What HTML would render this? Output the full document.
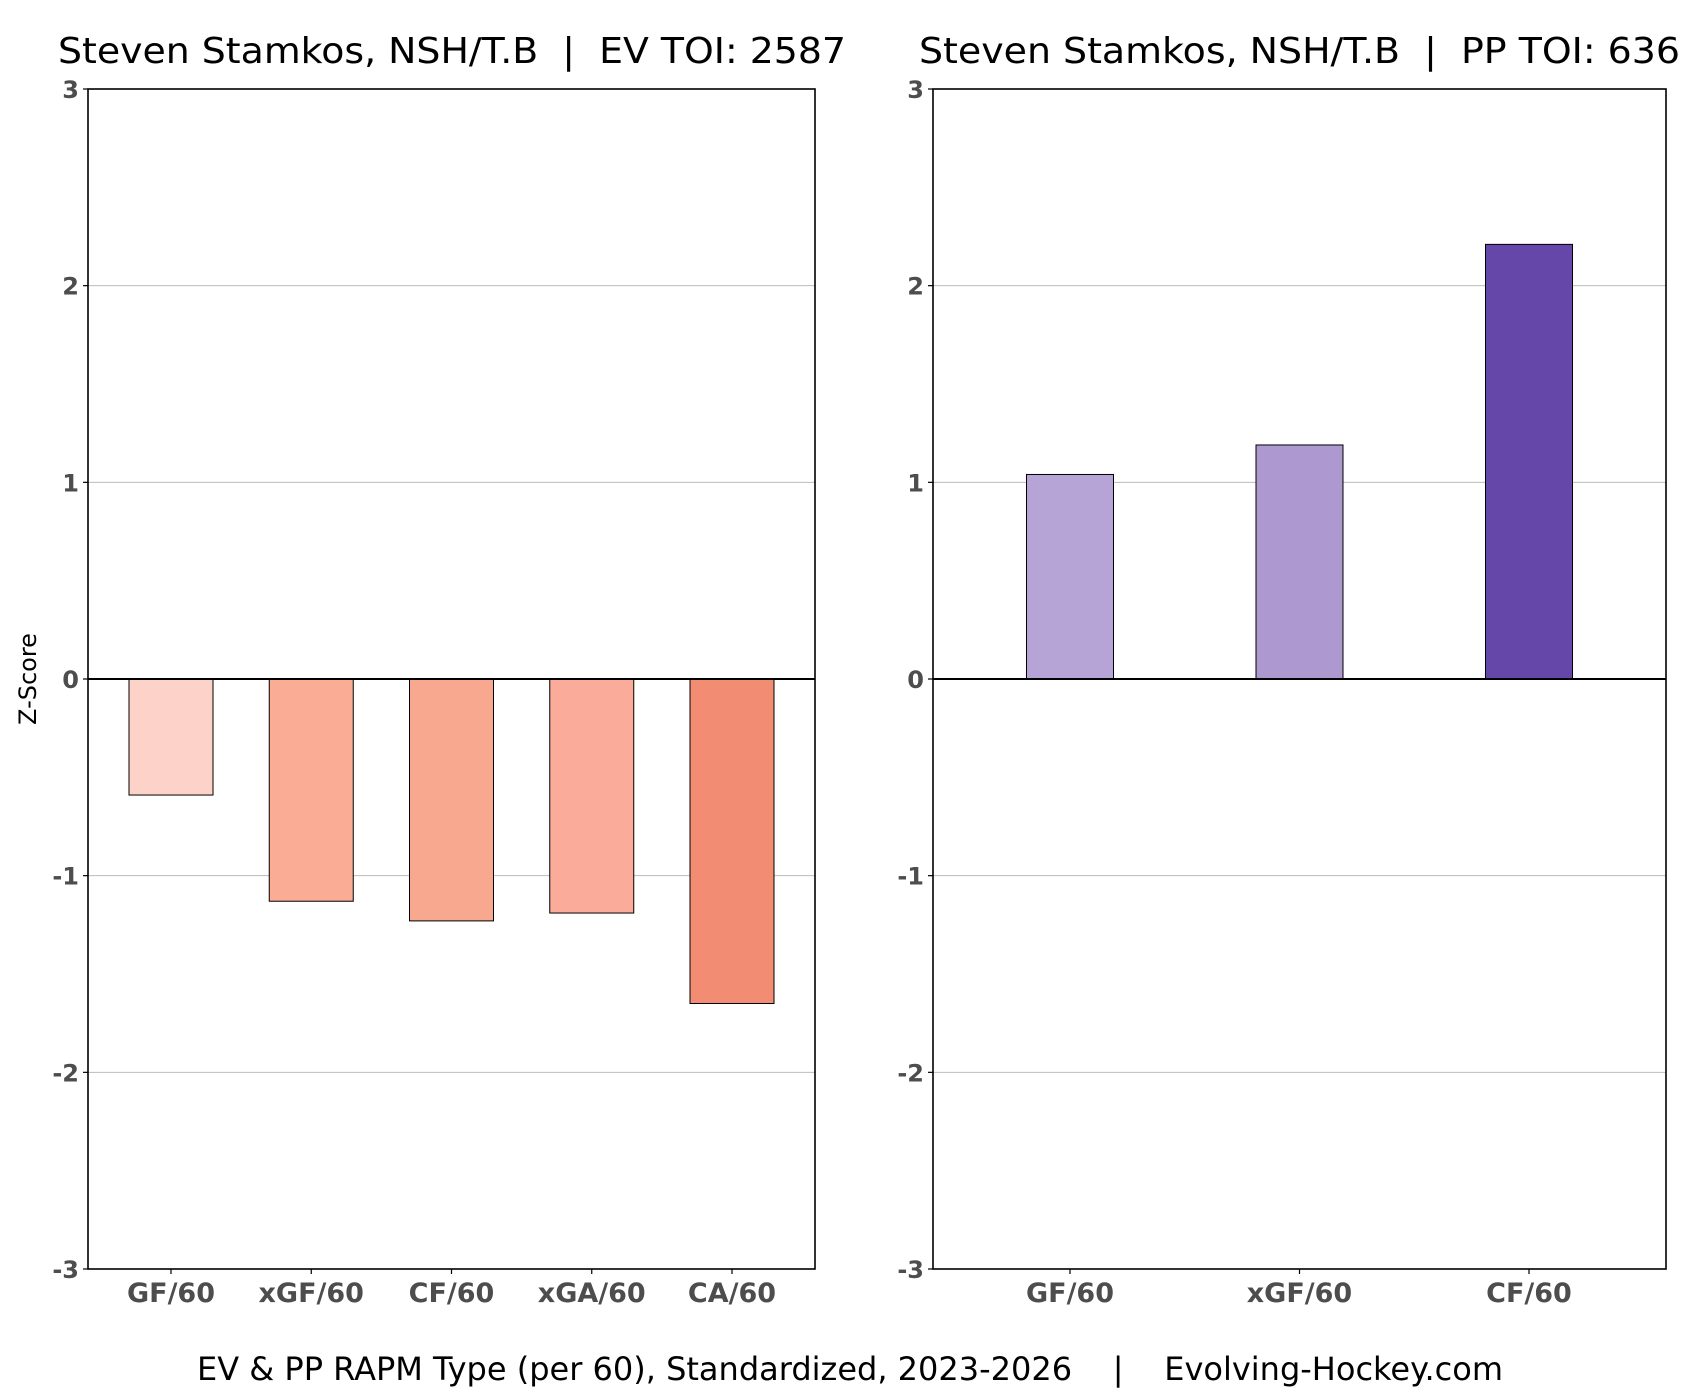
<!DOCTYPE html>
<html><head><meta charset="utf-8"><style>
html,body{margin:0;padding:0;background:#fff}
svg{display:block;font-family:"DejaVu Sans","Liberation Sans",sans-serif}
</style></head><body>
<svg id="c" width="1700" height="1400" viewBox="0 0 1700 1400">
<text x="58" y="63" font-size="36" xml:space="preserve" textLength="788" lengthAdjust="spacingAndGlyphs" fill="#000">Steven Stamkos, NSH/T.B  |  EV TOI: 2587</text>
<text x="919" y="63" font-size="36" xml:space="preserve" textLength="761" lengthAdjust="spacingAndGlyphs" fill="#000">Steven Stamkos, NSH/T.B  |  PP TOI: 636</text>
<text x="36" y="679" font-size="24" text-anchor="middle" transform="rotate(-90 36 679)" fill="#000">Z-Score</text>
<text x="197" y="1380" font-size="32" xml:space="preserve" textLength="1306" lengthAdjust="spacingAndGlyphs" fill="#000">EV &amp; PP RAPM Type (per 60), Standardized, 2023-2026    |    Evolving-Hockey.com</text>
</svg>
<script>
const evCats=["GF/60","xGF/60","CF/60","xGA/60","CA/60"];
const evVals=[-0.59,-1.13,-1.23,-1.19,-1.65];
const evColors=["#fdd3c9","#fbac95","#f9a890","#fbab99","#f28c72"];
const ppCats=["GF/60","xGF/60","CF/60"];
const ppVals=[1.04,1.19,2.21];
const ppColors=["#b7a4d6","#ad98d0","#6546a9"];
const yTicks=[-3,-2,-1,0,1,2,3];
const NS="http://www.w3.org/2000/svg";
const svgEl=document.getElementById('c');
const plotTop=89,plotBot=1269;
function yS(v){return plotTop+(3-v)*(plotBot-plotTop)/6;}
function mk(t,a,p){const e=document.createElementNS(NS,t);for(const k in a)e.setAttribute(k,a[k]);(p||svgEl).appendChild(e);return e;}
function panel(name,x0,x1,cats,vals,cols,bw,pad){
  const g=mk('g',{});
  
  
  yTicks.forEach(t=>{
    if(t!==3&&t!==-3&&t!==0){const l=mk('line',{x1:x0,x2:x1,y1:yS(t),y2:yS(t),stroke:'#bbb','stroke-width':1},g);
    
    }
    mk('line',{x1:x0-5,x2:x0,y1:yS(t),y2:yS(t),stroke:'#000','stroke-width':1.2},g);
    const tx=mk('text',{x:x0-9,y:yS(t)+9,'font-size':24,'font-weight':'bold','text-anchor':'end',fill:'#4d4d4d'},g);
    tx.textContent=String(t);
    
    
  });
  const n=cats.length, step=(x1-x0-2*pad)/(n-1);
  cats.forEach((c,i)=>{
    const cx=x0+pad+i*step, v=vals[i];
    const y0=yS(0), yv=yS(v);
    const r=mk('rect',{x:cx-bw/2,y:Math.min(y0,yv),width:bw,height:Math.abs(yv-y0),fill:cols[i],stroke:'#000','stroke-width':1},g);
    
    
    mk('line',{x1:cx,x2:cx,y1:plotBot,y2:plotBot+5,stroke:'#000','stroke-width':1.2},g);
    const t=mk('text',{x:cx,y:plotBot+33,'font-size':27,'font-weight':'bold','text-anchor':'middle',fill:'#4d4d4d'},g);
    t.textContent=c;
    
    
  });
  const z=mk('line',{x1:x0,x2:x1,y1:yS(0),y2:yS(0),stroke:'#000','stroke-width':2},g);
  
  
  const f=mk('rect',{x:x0,y:plotTop,width:x1-x0,height:plotBot-plotTop,fill:'none',stroke:'#000','stroke-width':1.6},g);
  
  
}
panel('ev',88,815,evCats,evVals,evColors,84,83);
panel('pp',933,1666,ppCats,ppVals,ppColors,87,137);
</script>
</body></html>
